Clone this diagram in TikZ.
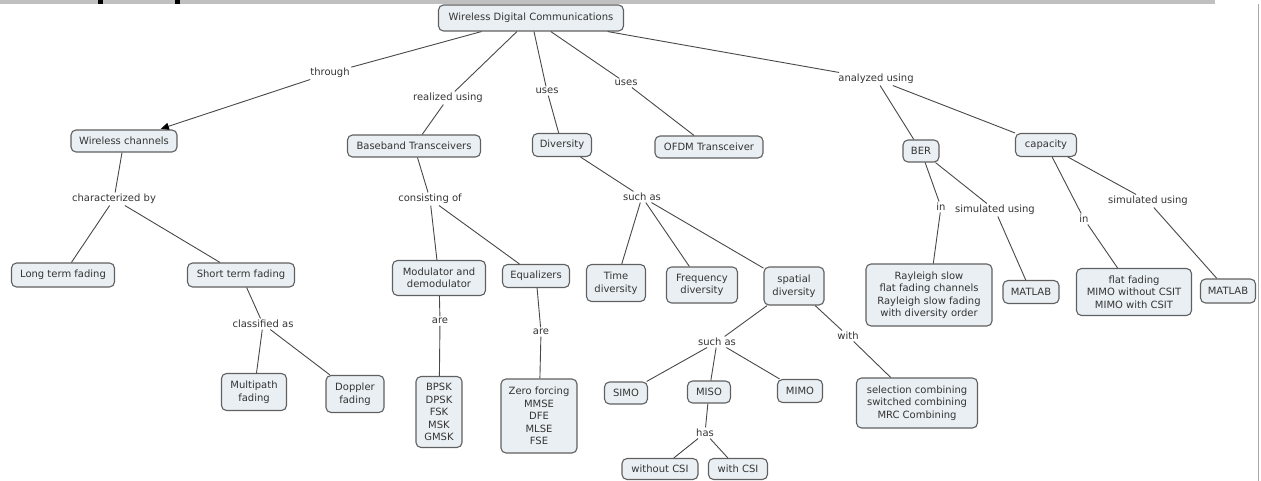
\documentclass[tikz,border=0pt]{standalone}
\usepackage{fontspec}
\setmainfont{DejaVu Sans}
\usetikzlibrary{arrows.meta}
\definecolor{boxfill}{RGB}{233,239,243}
\definecolor{boxline}{RGB}{96,96,96}
\definecolor{ink}{RGB}{52,52,52}
\definecolor{linkline}{RGB}{72,72,72}
\definecolor{barcol}{RGB}{192,192,192}
\definecolor{edgecol}{RGB}{170,170,170}
\begin{document}
\begin{tikzpicture}[x=1pt,y=-1pt,
  txt/.style={text=ink, font=\fontsize{10}{12.5}\selectfont, align=center},
  concept/.style={txt, draw=boxline, line width=1.1pt, fill=boxfill,
    rounded corners=5pt, inner sep=2pt},
  box/.style 2 args={concept, minimum width=#1pt, minimum height=#2pt},
  link/.style={txt, inner sep=1.5pt},
  conn/.style={draw=linkline, line width=0.9pt},
  tip/.style={conn, -{Triangle[length=8pt,width=7pt,color=black]}, shorten >=2pt},
]
\useasboundingbox (0,0) rectangle (1261,481);

% page furniture: header strip and right margin rule
\fill[barcol] (0,0) rectangle (1215,4);
\fill[black] (98,0) rectangle (103,4);
\fill[black] (175,0) rectangle (180,4);
\draw[edgecol, line width=1.4pt] (1258.5,4) -- (1258.5,481);

% concepts
\node[box={185}{26}] (wdc)  at (531,18)  {Wireless Digital Communications};
\node[box={106}{22}] (wch)  at (124,141) {Wireless channels};
\node[box={133}{22}] (bbt)  at (414,146) {Baseband Transceivers};
\node[box={59}{23}]  (div)  at (562,145) {Diversity};
\node[box={108}{22}] (ofdm) at (709,147) {OFDM Transceiver};
\node[box={36}{22}]  (ber)  at (921,151) {BER};
\node[box={61}{23}]  (cap)  at (1046,145) {capacity};

\node[box={103}{24}] (ltf)  at (63,275)  {Long term fading};
\node[box={107}{24}] (stf)  at (241,275) {Short term fading};
\node[box={65}{37}]  (mpf)  at (254,392) {Multipath\\fading};
\node[box={58}{37}]  (dpf)  at (355,394) {Doppler\\fading};

\node[box={93}{35}]  (mod)  at (439,278) {Modulator and\\demodulator};
\node[box={67}{23}]  (eq)   at (536,276) {Equalizers};
\node[box={46}{71}]  (bpsk) at (439,412) {BPSK\\DPSK\\FSK\\MSK\\GMSK};
\node[box={76}{74}]  (zf)   at (539,416) {Zero forcing\\MMSE\\DFE\\MLSE\\FSE};

\node[box={59}{37}]  (time) at (616,283) {Time\\diversity};
\node[box={71}{36}]  (freq) at (702,285) {Frequency\\diversity};
\node[box={60}{38}]  (spat) at (794,286) {spatial\\diversity};
\node[box={43}{22}]  (simo) at (626,393) {SIMO};
\node[box={43}{22}]  (miso) at (709,392) {MISO};
\node[box={45}{23}]  (mimo) at (800,391) {MIMO};
\node[box={76}{21}]  (wocsi) at (660,469) {without CSI};
\node[box={59}{21}]  (wcsi) at (738,469) {with CSI};
\node[box={121}{50}] (sel)  at (917,403) {selection combining\\switched combining\\MRC Combining};

\node[box={126}{62}] (ray)  at (929,295) {Rayleigh slow\\flat fading channels\\Rayleigh slow fading\\with diversity order};
\node[box={56}{23}]  (mat1) at (1031,292) {MATLAB};
\node[box={115}{47}] (ff)   at (1134,292) {flat fading\\MIMO without CSIT\\MIMO with CSIT};
\node[box={55}{24}]  (mat2) at (1228,291) {MATLAB};

% linking phrases
\node[link] (lthr)  at (330,73)  {through};
\node[link] (lreal) at (448,98)  {realized using};
\node[link] (luse1) at (547,91)  {uses};
\node[link] (luse2) at (626,83)  {uses};
\node[link] (lana)  at (876,79)  {analyzed using};
\node[link] (lchar) at (114,199) {characterized by};
\node[link] (lcls)  at (263,324) {classified as};
\node[link] (lcons) at (430,199) {consisting of};
\node[link] (lare1) at (440,321) {are};
\node[link] (lare2) at (541,332) {are};
\node[link] (lsa1)  at (642,197) {such as};
\node[link] (lsa2)  at (717,342) {such as};
\node[link] (lwith) at (848,336) {with};
\node[link] (lhas)  at (705,433) {has};
\node[link] (lin1)  at (941,207) {in};
\node[link] (lsim1) at (995,210) {simulated using};
\node[link] (lin2)  at (1084,219) {in};
\node[link] (lsim2) at (1148,201) {simulated using};

% connections
\draw[conn] (wdc) -- (lthr);
\draw[tip]  (lthr) -- (wch);
\draw[conn] (wdc) -- (lreal) -- (bbt);
\draw[conn] (wdc) -- (luse1) -- (div);
\draw[conn] (wdc) -- (luse2) -- (ofdm);
\draw[conn] (wdc) -- (lana);
\draw[conn] (lana) -- (ber);
\draw[conn] (lana) -- (cap);

\draw[conn] (wch) -- (lchar);
\draw[conn] (lchar) -- (ltf);
\draw[conn] (lchar) -- (stf);
\draw[conn] (stf) -- (lcls);
\draw[conn] (lcls) -- (mpf);
\draw[conn] (lcls) -- (dpf);

\draw[conn] (bbt) -- (lcons);
\draw[conn] (lcons) -- (mod);
\draw[conn] (lcons) -- (eq);
\draw[conn] (mod) -- (lare1) -- (bpsk);
\draw[conn] (eq) -- (lare2) -- (zf);

\draw[conn] (div) -- (lsa1);
\draw[conn] (lsa1) -- (time);
\draw[conn] (lsa1) -- (freq);
\draw[conn] (lsa1) -- (spat);
\draw[conn] (spat) -- (lsa2);
\draw[conn] (lsa2) -- (simo);
\draw[conn] (lsa2) -- (miso);
\draw[conn] (lsa2) -- (mimo);
\draw[conn] (spat) -- (lwith) -- (sel);
\draw[conn] (miso) -- (lhas);
\draw[conn] (lhas) -- (wocsi);
\draw[conn] (lhas) -- (wcsi);

\draw[conn] (ber) -- (lin1) -- (ray);
\draw[conn] (ber) -- (lsim1) -- (mat1);
\draw[conn] (cap) -- (lin2) -- (ff);
\draw[conn] (cap) -- (lsim2) -- (mat2);
\end{tikzpicture}
\end{document}
